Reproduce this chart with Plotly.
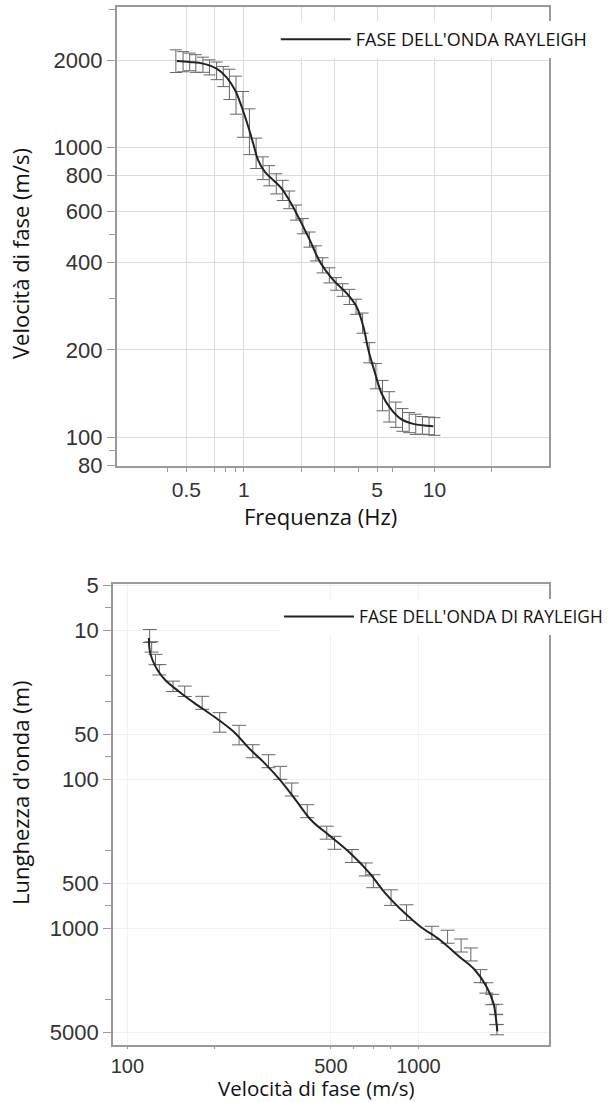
import plotly.graph_objects as go

# --- curva di dispersione: frequenza (Hz) -> velocità di fase (m/s)
frequenza = [0.445, 0.52, 0.61, 0.72, 0.81, 0.90, 0.975, 1.056, 1.12, 1.19, 1.29, 1.43, 1.58, 1.75,
             1.93, 2.22, 2.51, 2.95, 3.47, 3.91, 4.24, 4.50, 4.88, 5.29, 5.85, 6.60, 7.75, 9.87]
velocita = [1985, 1968, 1944, 1868, 1747, 1573, 1377, 1175, 1030, 901, 822, 769, 720, 648,
            575, 478, 402, 348, 313, 281, 240, 200, 166, 141, 126, 116, 111, 109]

# punti misurati (barre d'errore, in %)
freq_punti = [0.44, 0.48, 0.52, 0.56, 0.61, 0.66, 0.72, 0.78, 0.84, 0.91, 0.99, 1.07, 1.16, 1.26,
              1.36, 1.48, 1.60, 1.73, 1.88, 2.04, 2.21, 2.39, 2.59, 2.81, 3.05, 3.30, 3.58, 3.88,
              4.20, 4.55, 4.93, 5.34, 5.79, 6.27, 6.80, 7.37, 7.98, 8.65, 9.37, 10.0]
vel_punti = [1990, 1980, 1975, 1950, 1930, 1890, 1840, 1760, 1660, 1530, 1320, 1150, 960, 850,
             800, 750, 712, 660, 596, 535, 481, 431, 392, 362, 338, 322, 305, 282,
             248, 196, 163, 140, 128, 120, 115, 112.5, 111, 110, 109.5, 109]
err_punti = [9, 8, 7, 7, 6, 6, 7, 8, 12, 15, 18, 18, 12, 9,
             8, 8, 8, 7, 6, 6, 6, 6, 6, 6, 5, 5, 6, 6,
             8, 8, 10, 12, 12, 10, 9, 8, 8, 7, 7, 7]

# --- seconda figura: velocità di fase (m/s) -> lunghezza d'onda (m)
vel_curva2 = [118.6, 119.3, 121.9, 126.9, 134.9, 150.3, 170.1, 198.3, 231.4, 261.5, 296, 334.3,
              378.4, 428.2, 499.2, 582.4, 679.2, 768.6, 896.7, 1013.6, 1183, 1379, 1560, 1712,
              1809, 1848, 1866]
lambda_curva2 = [11.3, 13.6, 15.8, 18.5, 21.6, 25.8, 30.9, 38.0, 47.9, 61.9, 78.1, 101.1,
                 137.7, 188.7, 242.8, 313.8, 427.4, 582.3, 793.2, 975.7, 1198, 1551, 1905, 2466,
                 3187, 4125, 4943]

vel_punti2 = [119.3, 121.2, 124.9, 128.8, 143.5, 157.4, 180.7, 207.6, 242, 269.8, 305.3, 335,
              367, 415, 484, 515, 591, 659, 700, 805, 910, 1112, 1259, 1401, 1513, 1633,
              1711, 1791, 1848, 1848, 1860]
lambda_punti2 = [11.0, 13.0, 15.8, 18.5, 23.9, 25.8, 30.9, 42.1, 51.2, 65.3, 76.2, 91.2,
                 118, 165, 230, 269, 330, 406, 487, 629, 793, 1081, 1149, 1316, 1511, 2113,
                 2531, 3027, 3532, 4121, 4821]
err_punti2 = [10, 8, 8, 8, 8, 8, 10, 15, 15, 10, 10, 10,
              10, 10, 10, 10, 10, 10, 10, 12, 12, 10, 10, 10, 10, 10,
              8, 8, 8, 8, 8]

W, H = 608, 1102
testo = '#111111'
font_tick = dict(family='Liberation Sans, Arial', size=22, color='#333333')
font_tick_x = dict(family='Liberation Sans, Arial', size=21, color='#333333')
font_tit = dict(family='Open Sans', size=22, color=testo)

fig = go.Figure()

# grafico superiore
fig.add_trace(go.Scatter(
    x=freq_punti, y=vel_punti, mode='markers', marker=dict(size=1, color='rgba(0,0,0,0)'),
    error_y=dict(type='data', array=[v * e / 100 for v, e in zip(vel_punti, err_punti)],
                 color='#666666', thickness=1, width=6),
    showlegend=False, xaxis='x', yaxis='y', hoverinfo='skip'))
fig.add_trace(go.Scatter(
    x=frequenza, y=velocita, mode='lines', name="FASE DELL'ONDA RAYLEIGH",
    line=dict(color='#222222', width=2, shape='spline'), xaxis='x', yaxis='y', legend='legend'))

# grafico inferiore
fig.add_trace(go.Scatter(
    x=vel_punti2, y=lambda_punti2, mode='markers', marker=dict(size=1, color='rgba(0,0,0,0)'),
    error_y=dict(type='data', array=[l * e / 100 for l, e in zip(lambda_punti2, err_punti2)],
                 color='#666666', thickness=1, width=7),
    showlegend=False, xaxis='x2', yaxis='y2', hoverinfo='skip'))
fig.add_trace(go.Scatter(
    x=vel_curva2, y=lambda_curva2, mode='lines', name="FASE DELL'ONDA DI RAYLEIGH",
    line=dict(color='#222222', width=2, shape='spline'), xaxis='x2', yaxis='y2', legend='legend2'))

asse = dict(type='log', showline=True, mirror=True, linecolor='#9a9a9a', linewidth=1.5,
            ticks='outside', ticklen=8, tickcolor='#9a9a9a', tickfont=font_tick, zeroline=False,
            automargin=False)

fig.update_layout(
    width=W, height=H, margin=dict(l=0, r=0, t=0, b=0, autoexpand=False),
    paper_bgcolor='white', plot_bgcolor='white',
    xaxis=dict(asse, domain=[116.7 / W, 548.6 / W], anchor='y', range=[-0.667, 1.599],
               tickvals=[0.5, 0.7, 1, 2, 3, 5, 10, 20],
               ticktext=['0.5', '', '1', '', '', '5', '10', ''], ticklen=4, tickfont=font_tick_x,
               showgrid=True, gridcolor='#dcdcdc',
               minor=dict(tickvals=[0.4, 0.8, 0.9, 4, 6], ticks='outside',
                          ticklen=4, tickcolor='#9a9a9a', showgrid=False)),
    yaxis=dict(asse, domain=[1 - 466 / H, 1 - 7.3 / H], anchor='x', range=[1.90, 3.483],
               tickvals=[80, 100, 200, 400, 600, 800, 1000, 2000],
               ticktext=['80', '100', '200', '400', '600', '800', '1000', '2000'],
               showgrid=True, gridcolor='#dcdcdc',
               minor=dict(tickvals=[90, 300, 500, 3000], ticks='outside', ticklen=6,
                          tickcolor='#9a9a9a', showgrid=False)),
    xaxis2=dict(asse, domain=[112.8 / W, 548.6 / W], anchor='y2', range=[1.950, 3.447],
                tickvals=[100, 500, 1000], ticktext=['100', '500', '1000'], ticklen=2,
                tickfont=dict(font_tick_x, size=20), showgrid=True, gridcolor='#f1f1f1',
                minor=dict(tickvals=[200, 600, 700, 800], ticks='outside', ticklen=2,
                           tickcolor='#9a9a9a', showgrid=False)),
    yaxis2=dict(asse, domain=[1 - 1045 / H, 1 - 584 / H], anchor='x2', range=[3.785, 0.69],
                tickvals=[5, 10, 50, 100, 500, 1000, 5000],
                ticktext=['5', '10', '50', '100', '500', '1000', '5000'],
                showgrid=True, gridcolor='#f1f1f1',
                minor=dict(tickvals=[7, 20, 30, 70, 300, 700, 3000], ticks='outside', ticklen=6,
                           tickcolor='#9a9a9a', showgrid=False)),
    legend=dict(x=0.975, xanchor='right', y=1 - 39.5 / H, yanchor='middle', bgcolor='white',
                borderwidth=0, font=dict(family='Open Sans', size=18, color=testo), itemwidth=70),
    legend2=dict(x=1, xanchor='right', y=1 - 616.7 / H, yanchor='middle', bgcolor='white',
                 borderwidth=0, font=dict(family='Open Sans', size=17.3, color=testo), itemwidth=70),
    annotations=[
        dict(text='Frequenza (Hz)', x=320 / W, y=1 - 516 / H, xref='paper', yref='paper',
             xanchor='center', yanchor='middle', showarrow=False, font=font_tit),
        dict(text='Velocità di fase (m/s)', x=316.7 / W, y=1 - 1088 / H, xref='paper', yref='paper',
             xanchor='center', yanchor='middle', showarrow=False, font=dict(font_tit, size=20.5)),
        dict(text='Velocità di fase (m/s)', x=20 / W, y=1 - 254 / H, xref='paper', yref='paper',
             xanchor='center', yanchor='middle', showarrow=False, textangle=-90, font=font_tit),
        dict(text="Lunghezza d'onda (m)", x=20 / W, y=1 - 793 / H, xref='paper', yref='paper',
             xanchor='center', yanchor='middle', showarrow=False, textangle=-90, font=font_tit),
    ],
)

# la pagina HTML ha un margine di 8px sul body: lo azzero
fig.write_html("out.html", config={'displayModeBar': False},
               post_script="document.body.style.margin='0px';")
